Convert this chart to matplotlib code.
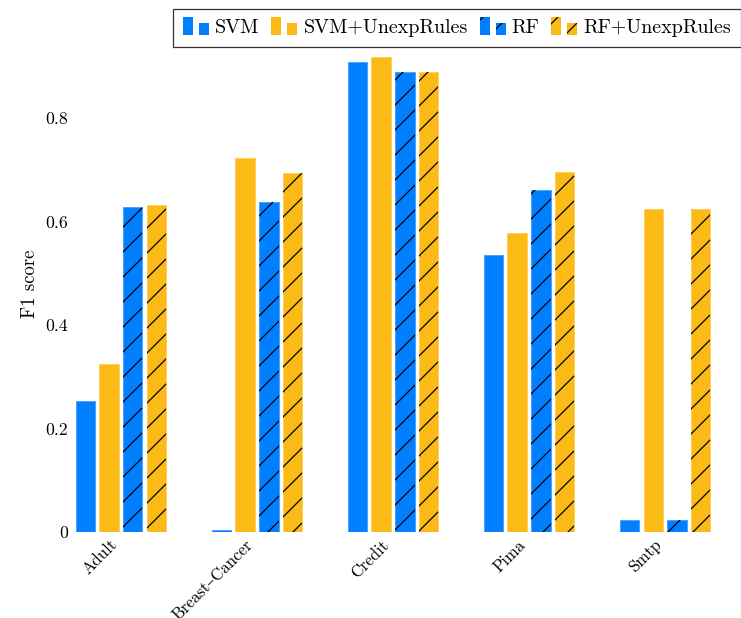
import numpy as np
import matplotlib
matplotlib.use('Agg')
import matplotlib.pyplot as plt
import matplotlib.patches as mpatches
import matplotlib.transforms as mtransforms
from matplotlib.legend_handler import HandlerBase

# ── data ───────────────────────────────────────────────────────────────────────
datasets = ['Adult', 'Breast–Cancer', 'Credit', 'Pima', 'Smtp']
methods  = ['SVM', 'SVM+UnexpRules', 'RF', 'RF+UnexpRules']

svm       = [0.253, 0.003, 0.907, 0.535, 0.023]
svm_rules = [0.324, 0.722, 0.918, 0.577, 0.623]
rf        = [0.628, 0.638, 0.888, 0.661, 0.023]
rf_rules  = [0.632, 0.694, 0.888, 0.696, 0.623]

yticks = [0, 0.2, 0.4, 0.6, 0.8]
ytick_labels = ['0', '0.2', '0.4', '0.6', '0.8']

BLUE   = '#0080ff'
YELLOW = '#fcba16'
BLUE_EDGE   = '#4da3ff'
YELLOW_EDGE = '#fdd060'

plt.rcParams['font.family'] = ['cmr10', 'DejaVu Serif']
plt.rcParams['axes.unicode_minus'] = False
plt.rcParams['axes.formatter.use_mathtext'] = True
plt.rcParams['hatch.linewidth'] = 0.6


class TwoBarHandler(HandlerBase):
    """pgfplots style legend image: two small bars."""
    def create_artists(self, legend, orig, xd, yd, w, h, fontsize, trans):
        fc, hatch = orig._leg_style
        bw = w * 0.38
        out = []
        for x0, hh in [(xd, h * 1.3), (xd + w - bw, h * 0.9)]:
            out.append(mpatches.Rectangle((x0, yd - h * 0.15), bw, hh, facecolor=fc,
                                          edgecolor='none', transform=trans))
            if hatch:
                out.append(mpatches.Rectangle((x0, yd - h * 0.15), bw, hh, fill=False,
                                              edgecolor='black', linewidth=0,
                                              hatch=hatch, transform=trans))
        return out


DPI = 150
fig = plt.figure(figsize=(741 / DPI, 618 / DPI), dpi=DPI)
ax = fig.add_axes([72 / 741, 86 / 618, (714 - 72) / 741, (532 - 35) / 618])

x = np.arange(len(datasets))
step, width = 0.1735, 0.143
series = [
    (svm,       BLUE,   BLUE_EDGE,   ''),
    (svm_rules, YELLOW, YELLOW_EDGE, ''),
    (rf,        BLUE,   BLUE_EDGE,   '//'),
    (rf_rules,  YELLOW, YELLOW_EDGE, '//'),
]
handles = []
for i, (vals, fc, ec, hatch) in enumerate(series):
    pos = x + (i - 1.5) * step
    bars = ax.bar(pos, vals, width, color=fc, edgecolor=ec, linewidth=0.5,
                  label=methods[i])
    if hatch:
        # hatch drawn in black on top of the coloured fill
        ax.bar(pos, vals, width, fill=False, edgecolor='black', linewidth=0,
               hatch=hatch)
    h = bars.patches[0]
    h._leg_style = (fc, hatch)
    handles.append(h)

ax.set_xlim(-0.36, 4.36)
ax.set_ylim(0, 0.96)
ax.set_yticks(yticks)
ax.set_yticklabels(ytick_labels, fontsize=8.5)
ax.set_xticks(x)
ax.set_xticklabels(datasets, fontsize=8, rotation=45, ha='right', va='center',
                   rotation_mode='anchor')
ax.tick_params(axis='y', length=0, pad=2)
ax.tick_params(axis='x', length=0, pad=5)
# nudge rotated labels a bit to the left (after tick_params, which resets transforms)
shift = mtransforms.ScaledTranslation(-3 / 72, 0, fig.dpi_scale_trans)
for lbl in ax.get_xticklabels():
    lbl.set_transform(lbl.get_transform() + shift)
ax.set_ylabel('F1 score', fontsize=9)
ax.yaxis.set_label_coords(-0.052, 0.5)
for s in ax.spines.values():
    s.set_visible(False)

leg = fig.legend(handles, methods, loc='upper right', bbox_to_anchor=(1.0, 0.985),
                 ncol=4, fontsize=9.6, frameon=True, fancybox=False,
                 edgecolor='black', handler_map={mpatches.Rectangle: TwoBarHandler()},
                 handlelength=1.3, handletextpad=0.3, columnspacing=0.6,
                 borderpad=0.5, borderaxespad=0)
leg.get_frame().set_linewidth(0.6)

fig.savefig('out.png', dpi=DPI)
